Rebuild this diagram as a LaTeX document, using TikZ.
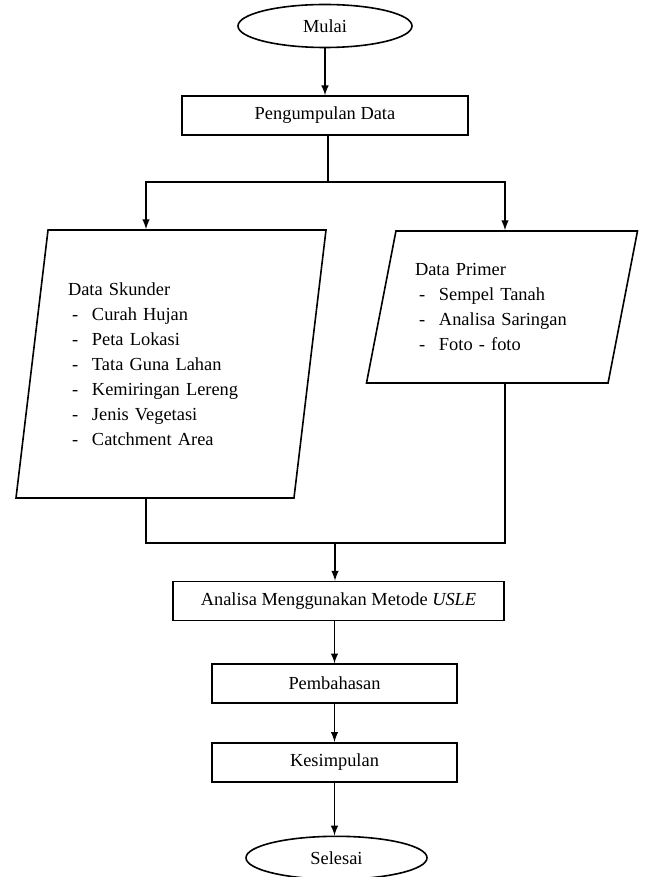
\documentclass[tikz,border=0pt]{standalone}
\usepackage{fontspec}
\setmainfont{Liberation Serif}
\usepackage{tikz}
\usetikzlibrary{shapes.geometric}
\usetikzlibrary{positioning}
\usetikzlibrary{arrows}
\tikzset{node distance=20pt, % jarak minimum antar node
every node/.style={font=\fontsize{9.2pt}{12.5pt}\selectfont},
terminal/.style={ % bentuk mulai dan selesai
ellipse, draw, line width=0.8pt,
minimum width=87pt, minimum height=21.5pt},
proses/.style={ % kotak proses
rectangle, draw, line width=0.8pt,
minimum height=19.5pt},
masukan/.style={ % jajaran genjang untuk data
trapezium, draw, line width=0.8pt,
trapezium stretches body, align=left},
garis/.style={ % garis penghubung tanpa panah
draw, line width=0.7pt},
alur/.style={ % garis penghubung berpanah
garis, ->, >=latex}}
\newcommand{\butir}[1]{\makebox[12pt][l]{\hspace{2pt}-}#1}

\begin{document}
\begin{tikzpicture}
				\useasboundingbox (0,0) rectangle (322.5pt,-438.5pt);
				\node[terminal] (mulai) at (162.5pt,-13pt) {Mulai};
				\node[proses, minimum width=143pt, below=23.5pt of mulai] (kumpul) {Pengumpulan Data};
				\node[masukan, text width=103pt, minimum width=155pt, minimum height=134pt,
					trapezium left angle=79.7, trapezium right angle=100.3] (skunder) at (85.5pt,-182pt)
					{Data Skunder\\ \butir{Curah Hujan}\\ \butir{Peta Lokasi}\\ \butir{Tata Guna Lahan}\\
					\butir{Kemiringan Lereng}\\ \butir{Jenis Vegetasi}\\ \butir{Catchment Area}};
				\node[masukan, text width=87pt, minimum width=135.5pt, minimum height=76pt,
					trapezium left angle=73.7, trapezium right angle=106.3] (primer) at (251pt,-153.5pt)
					{Data Primer\\ \butir{Sempel Tanah}\\ \butir{Analisa Saringan}\\ \butir{Foto - foto}};
				\node[proses, minimum width=165.5pt] (analisa) at (169.25pt,-300.5pt) {Analisa Menggunakan Metode \textit{USLE}};
				\node[proses, minimum width=122.5pt, below=21pt of analisa, xshift=-2pt] (bahas) {Pembahasan};
				\node[proses, minimum width=122.5pt, below=19pt of bahas] (simpul) {Kesimpulan};
				\node[terminal, minimum width=90.5pt, below=26.5pt of simpul, xshift=1pt] (selesai) {Selesai};

				\coordinate (cabang) at (164pt,-91pt);
				\coordinate (kiri) at (73pt,-91pt);
				\coordinate (kanan) at (252.5pt,-91pt);
				\coordinate (gabung) at (167.5pt,-271.5pt);

				\draw[alur] (mulai) -- (kumpul);
				\draw[garis] (kumpul.south -| cabang) -- (cabang);
				\draw[alur] (cabang) -- (kiri) -- (kiri |- skunder.north);
				\draw[alur] (cabang) -- (kanan) -- (kanan |- primer.north);
				\draw[garis] (kiri |- skunder.south) |- (gabung);
				\draw[garis] (kanan |- primer.south) |- (gabung);
				\draw[alur] (gabung) -- (gabung |- analisa.north);
				\draw[alur] (analisa.south -| bahas.north) -- (bahas);
				\draw[alur] (bahas) -- (simpul);
				\draw[alur] (simpul) -- (simpul |- selesai.north);
			\end{tikzpicture}
\end{document}
